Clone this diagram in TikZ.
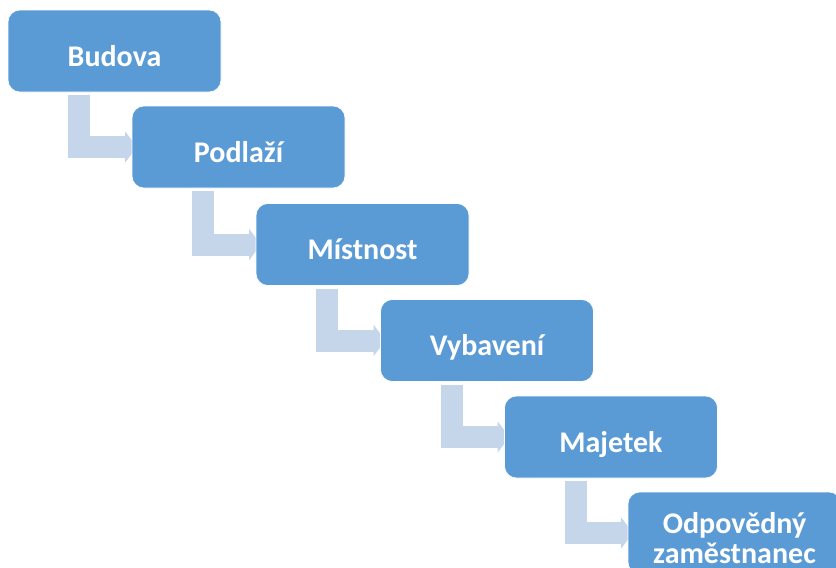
\documentclass[tikz,border=0pt]{standalone}
\usepackage{fontspec}
\setmainfont{Carlito}
\usetikzlibrary{arrows.meta,backgrounds}

\definecolor{stepblue}{HTML}{5B9BD5}
\definecolor{steplight}{HTML}{C5D5EA}

\tikzset{
	stepbox/.style={rectangle, rounded corners=12pt, fill=stepblue, draw=white, line width=0.6pt,
		minimum width=213pt, minimum height=82pt, inner sep=0pt, outer sep=0pt,
		text=white, align=center, text height=32pt, text depth=2pt,
		font=\fontsize{30}{30}\selectfont\bfseries},
	steparrow/.style={draw=steplight, line width=22pt, line cap=butt, line join=miter,
		-{Triangle[length=12pt,width=31pt]}}
}

\begin{document}
\begin{tikzpicture}[x=1pt, y=-1pt]
		% page size of the reference
		\useasboundingbox (0,0) rectangle (836,568);
		\clip (0,0) rectangle (836,568);

		% Steps
		\node[stepbox] (budova) at (114.5, 51) {Budova};
		\node[stepbox] (podlazi) at (238.5, 147) {Podlaží};
		\node[stepbox] (mistnost) at (362.5, 244.5) {Místnost};
		\node[stepbox] (vybaveni) at (487, 340.5) {Vybavení};
		\node[stepbox] (majetek) at (611, 437) {Majetek};
		\node[stepbox, text height=62pt] (zamestnanec) at (734.5, 533) {Odpovědný\\zaměstnanec};

		% bent arrows behind the boxes
		\begin{scope}[on background layer]
		\draw[steparrow] ([xshift=71pt,yshift=-3pt]budova.south west) |- ([xshift=5pt]podlazi.west);
		\draw[steparrow] ([xshift=71pt,yshift=-3pt]podlazi.south west) |- ([xshift=5pt]mistnost.west);
		\draw[steparrow] ([xshift=71pt,yshift=-3pt]mistnost.south west) |- ([xshift=5pt]vybaveni.west);
		\draw[steparrow] ([xshift=71pt,yshift=-3pt]vybaveni.south west) |- ([xshift=5pt]majetek.west);
		\draw[steparrow] ([xshift=71pt,yshift=-3pt]majetek.south west) |- ([xshift=5pt]zamestnanec.west);
		\end{scope}
	\end{tikzpicture}
\end{document}
